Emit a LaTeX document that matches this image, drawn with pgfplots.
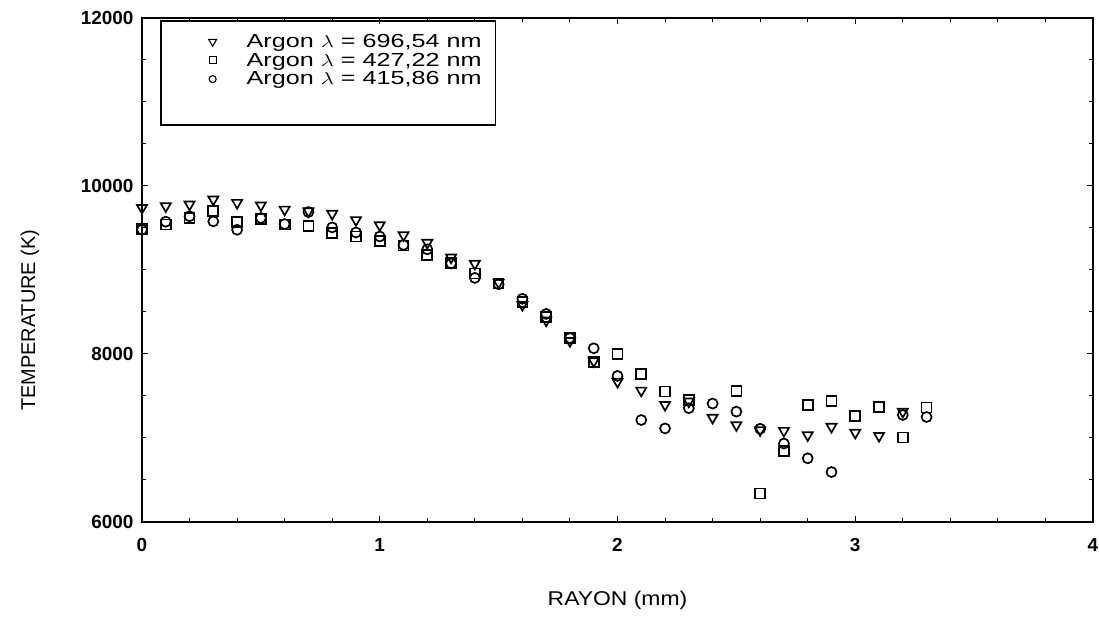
\documentclass[border=0pt]{standalone}
\usepackage{pgfplots}
\pgfplotsset{compat=1.18}
\usepackage{fontspec}
\setmainfont{Liberation Sans}
\usepackage{graphicx}

\pgfplotsset{
  legtri/.style={legend image code/.code={\draw[##1, mark size=4.6bp, line width=1.1bp] plot coordinates {(0bp,0bp)};}},
  legsm/.style={legend image code/.code={\draw[##1, mark size=3.5bp, line width=1.1bp] plot coordinates {(0bp,0bp)};}},
}

\pgfplotstableread{
x T
0.0 9740
0.1 9760
0.2 9780
0.3 9840
0.4 9800
0.5 9770
0.6 9720
0.7 9700
0.8 9670
0.9 9595
1.0 9535
1.1 9415
1.2 9325
1.3 9150
1.4 9075
1.5 8850
1.6 8585
1.7 8400
1.8 8155
1.9 7915
2.0 7670
2.1 7565
2.2 7395
2.3 7435
2.4 7242
2.5 7154
2.6 7094
2.7 7086
2.8 7034
2.9 7134
3.0 7064
3.1 7026
3.2 7314
}\triangledata

\pgfplotstableread{
x T
0.0 9490
0.1 9540
0.2 9620
0.3 9700
0.4 9570
0.5 9610
0.6 9540
0.7 9520
0.8 9440
0.9 9400
1.0 9346
1.1 9290
1.2 9180
1.3 9080
1.4 8958
1.5 8840
1.6 8617
1.7 8437
1.8 8188
1.9 7903
2.0 8004
2.1 7763
2.2 7555
2.3 7455
2.5 7563
2.6 6340
2.7 6845
2.8 7391
2.9 7439
3.0 7260
3.1 7369
3.2 7006
3.3 7362
}\squaredata

\pgfplotstableread{
x T
0.0 9480
0.1 9575
0.2 9640
0.3 9579
0.4 9479
0.5 9619
0.6 9547
0.7 9690
0.8 9507
0.9 9447
1.0 9399
1.1 9298
1.2 9246
1.3 9078
1.4 8906
1.5 8830
1.6 8657
1.7 8477
1.8 8190
1.9 8068
2.0 7739
2.1 7214
2.2 7114
2.3 7355
2.4 7410
2.5 7314
2.6 7110
2.7 6934
2.8 6758
2.9 6595
3.2 7274
3.3 7250
}\circledata

\begin{document}
\begin{tikzpicture}
\path[use as bounding box] (0,0) rectangle (1099bp,632bp);
\begin{axis}[
  at={(142bp,110bp)}, anchor=south west,
  scale only axis, width=951bp, height=504bp,
  xmin=0, xmax=4, ymin=6000, ymax=12000,
  xtick={0,1,2,3,4}, ytick={6000,8000,10000,12000},
  scaled y ticks=false, scaled x ticks=false,
  minor x tick num=4, minor y tick num=3,
  major tick length=6bp, minor tick length=4bp,
  tick style={line width=1bp, black},
  axis line style={line width=1.4bp},
  tick align=inside,
  /pgf/number format/assume math mode=true,
  /pgf/number format/1000 sep={},
  tick label style={font=\fontsize{19}{19}\selectfont\bfseries},
  xticklabel style={yshift=-13bp},
  yticklabel style={xshift=-5bp},
  xlabel={\scalebox{1.15}[1]{RAYON (mm)}}, ylabel={TEMPERATURE (K)},
  every axis x label/.style={at={(axis description cs:0.5,0)}, anchor=center, yshift=-78bp, font=\fontsize{20}{20}\selectfont},
  every axis y label/.style={at={(axis description cs:-0.1178,0.40)}, anchor=center, rotate=90, font=\fontsize{20}{20}\selectfont},
  legend style={draw=none, fill=none, at={(axis description cs:0.0699,0.968)}, anchor=north west,
    font=\fontsize{19}{19}\selectfont, row sep=4bp, column sep=30bp, inner sep=0bp, nodes={inner sep=0bp}},
  legend cell align=left,
]
\addplot[only marks, mark=triangle, mark size=5.8bp, line width=1.7bp, mark options={rotate=180}, legtri]
  table[x=x, y=T] {\triangledata};
\addlegendentry{\scalebox{1.33}[1]{Argon $\lambda$ = 696,54 nm}}
\addplot[only marks, mark=square, mark size=5bp, line width=1.7bp, legsm]
  table[x=x, y=T] {\squaredata};
\addlegendentry{\scalebox{1.33}[1]{Argon $\lambda$ = 427,22 nm}}
\addplot[only marks, mark=o, mark size=5bp, line width=1.7bp, legsm]
  table[x=x, y=T] {\circledata};
\addlegendentry{\scalebox{1.33}[1]{Argon $\lambda$ = 415,86 nm}}
\draw[line width=1.3bp] (axis description cs:0.0200,0.994) rectangle (axis description cs:0.372,0.788);
\end{axis}
\end{tikzpicture}
\end{document}
